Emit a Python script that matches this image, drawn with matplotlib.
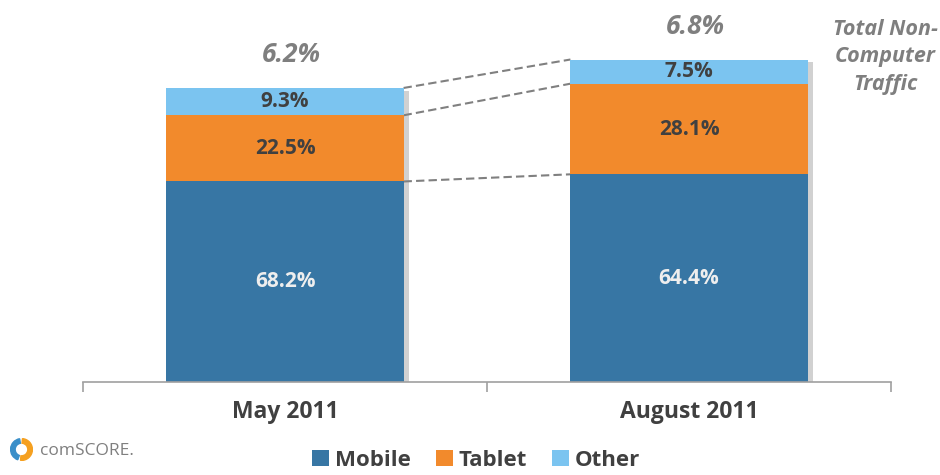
import matplotlib
matplotlib.use("Agg")
import matplotlib.pyplot as plt
import matplotlib.patheffects as pe
from matplotlib.patches import Patch, Wedge

plt.rcParams['font.family'] = ['Open Sans', 'DejaVu Sans']

periods = ['May 2011', 'August 2011']
totals = [6.2, 6.8]
segments = ['Mobile', 'Tablet', 'Other']
shares = {
    'Mobile': [68.2, 64.4],
    'Tablet': [22.5, 28.1],
    'Other': [9.3, 7.5],
}
colors = {'Mobile': '#3776A4', 'Tablet': '#F28A2C', 'Other': '#7BC4F0'}
label_colors = {'Mobile': '#EEEEEE', 'Tablet': '#404040', 'Other': '#404040'}

fig = plt.figure(figsize=(9.4, 4.75), dpi=100)
ax = fig.add_axes([83 / 940, 93 / 475, 808 / 940, 379.4 / 475])

xs = [0.5, 1.5]
width = 0.587

# soft shadow behind each whole stack
ax.bar(xs, totals, width, color='#888888', zorder=1,
       path_effects=[pe.SimplePatchShadow(offset=(4, -2), shadow_rgbFace='#999999', alpha=0.45)])

bottoms = [0.0, 0.0]
tops = {}
for seg in segments:
    heights = [t * s / 100 for t, s in zip(totals, shares[seg])]
    ax.bar(xs, heights, width, bottom=bottoms, color=colors[seg], zorder=2)
    for i in range(2):
        ax.text(xs[i], bottoms[i] + heights[i] / 2, f'{shares[seg][i]:.1f}%',
                ha='center', va='center', fontsize=15, fontweight='bold',
                color=label_colors[seg], zorder=3)
    bottoms = [b + h for b, h in zip(bottoms, heights)]
    tops[seg] = list(bottoms)

# dashed connectors between segment tops
for seg in segments:
    ax.plot([xs[0] + width / 2, xs[1] - width / 2], tops[seg], ls=(0, (4, 2)),
            color='#808080', lw=1.5, zorder=1)

for i in range(2):
    ax.text(xs[i] + 0.015, totals[i] + 0.70, f'{totals[i]:.1f}%', ha='center', va='center',
            fontsize=19, fontweight='bold', fontstyle='italic', color='#7F7F7F')

ax.text(1.985, 7.66, 'Total Non-\nComputer\nTraffic', ha='center', va='top',
        fontsize=15.5, fontweight='bold', fontstyle='italic', color='#7F7F7F',
        linespacing=1.42)

ax.set_xlim(0, 2)
ax.set_ylim(0, 8)
ax.set_xticks([0, 1, 2])
ax.set_xticklabels([])
ax.tick_params(axis='x', direction='out', length=7, color='#A0A0A0', width=1.2)
ax.set_yticks([])
for s in ['top', 'right', 'left']:
    ax.spines[s].set_visible(False)
ax.spines['bottom'].set_color('#A0A0A0')
ax.spines['bottom'].set_linewidth(1.2)

for i in range(2):
    fig.text(xs[i] * 404 / 940 + 83 / 940, 1 - 412 / 475, periods[i], ha='center',
             va='center', fontsize=16.5, fontweight='bold', color='#404040')

handles = [Patch(facecolor=colors[s], label=s) for s in segments]
leg = fig.legend(handles=handles, loc='center', bbox_to_anchor=(476 / 940, 1 - 460 / 475),
                 ncol=3, frameon=False, handlelength=0.75, handleheight=0.75,
                 handletextpad=0.25, columnspacing=1.15,
                 prop={'weight': 'bold', 'size': 16})
for t in leg.get_texts():
    t.set_color('#404040')

# comScore logo
lax = fig.add_axes([10 / 940, 1 - 461 / 475, 23 / 940, 23 / 475])
lax.set_aspect('equal')
lax.set_xlim(-1, 1)
lax.set_ylim(-1, 1)
lax.axis('off')
lax.add_patch(Wedge((0, 0), 0.95, 100, 250, width=0.4, color='#3A8FC9'))
lax.add_patch(Wedge((0, 0), 0.95, 265, 85, width=0.4, color='#F5A020'))
fig.text(40 / 940, 1 - 451 / 475, 'comSCORE.', ha='left', va='center', fontsize=12.5,
         color='#7F7F7F')

fig.savefig('out.png', dpi=100)
